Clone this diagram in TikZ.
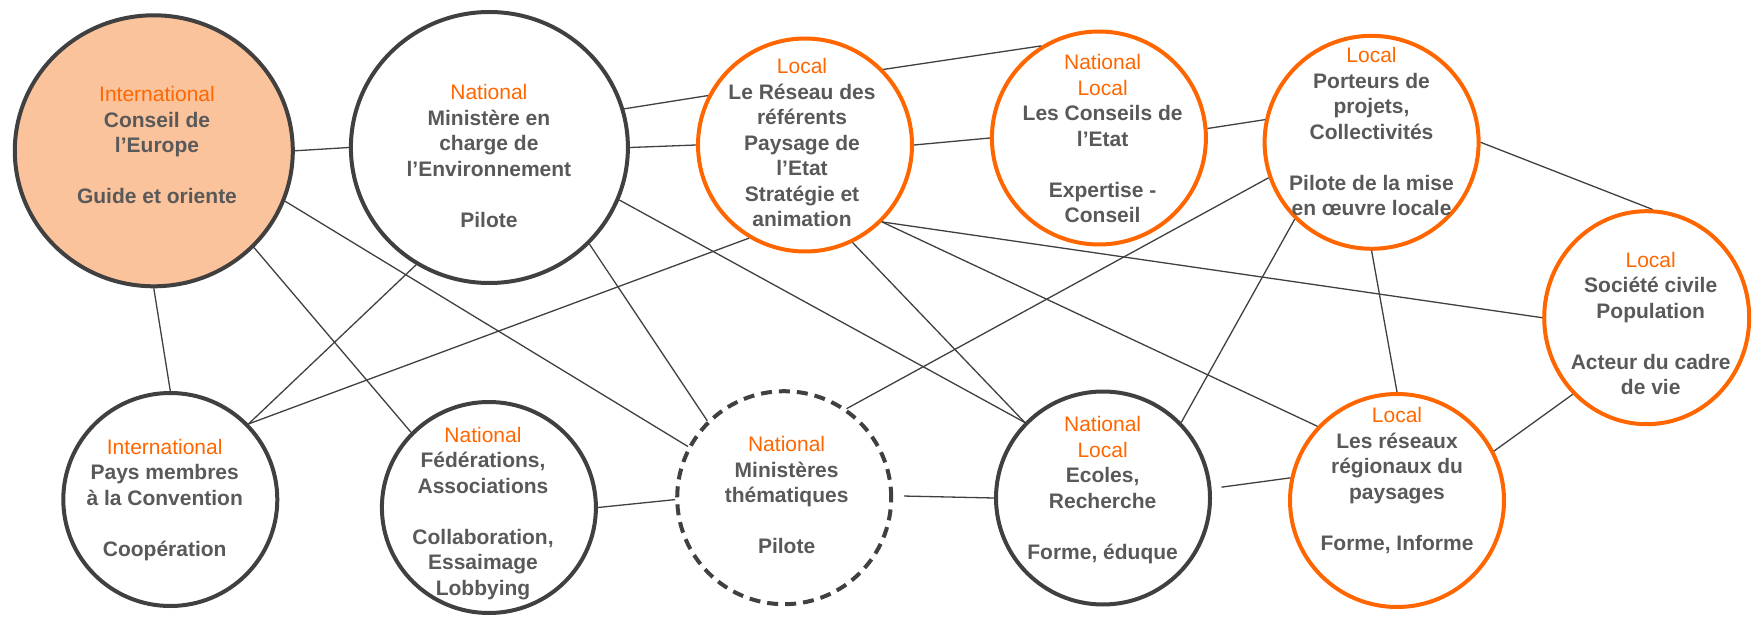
\documentclass[tikz,border=0pt]{standalone}
\usepackage{fontspec}
\setmainfont{Liberation Sans}
\usetikzlibrary{shapes.geometric}
\definecolor{txtgray}{RGB}{89,89,89}
\definecolor{lvlorange}{RGB}{255,102,0}
\definecolor{ringgray}{RGB}{64,64,64}
\definecolor{peach}{RGB}{250,195,155}
\newcommand{\lvl}[1]{{\mdseries\color{lvlorange}#1}}

\begin{document}
\begin{tikzpicture}[x=1pt,y=-1pt,
    acteur/.style={ellipse,draw=ringgray,line width=4pt,inner sep=0pt,
      minimum width=214pt,minimum height=213pt},
    orange/.style={acteur,draw=lvlorange},
    txt/.style={align=center,text=txtgray,font=\fontsize{21}{25.5}\selectfont\bfseries},
    lien/.style={draw=ringgray,line width=1.3pt}]
  \useasboundingbox (0,0) rectangle (1752,617);

  % top row
  \node[acteur,fill=peach,minimum width=278pt,minimum height=271pt] (conseil) at (153.8,150.8) {};
  \node[acteur,minimum width=277pt,minimum height=271pt] (ministere) at (489.4,147.5) {};
  \node[orange] (reseau) at (805,145) {};
  \node[orange] (etat) at (1098.9,138) {};
  \node[orange] (porteurs) at (1371.6,142.3) {};
  \node[orange,minimum width=205pt] (societe) at (1646.7,317.7) {};

  % bottom row
  \node[acteur] (pays) at (170.3,499.5) {};
  \node[acteur,minimum height=211pt] (federations) at (488.9,507.5) {};
  \node[acteur,dash pattern=on 11pt off 7pt] (ministeres) at (784.2,497.7) {};
  \node[acteur] (ecoles) at (1103,498) {};
  \node[orange] (regionaux) at (1397,500.5) {};

  % texts
  \node[txt] (conseil-t) at (157,145.2) {\lvl{International}\\Conseil de\\l'Europe\\[25.5pt]Guide et oriente};
  \node[txt] (ministere-t) at (488.9,155.8) {\lvl{National}\\Ministère en\\charge de\\l'Environnement\\[25.5pt]Pilote};
  \node[txt] (reseau-t) at (802,142.5) {\lvl{Local}\\Le Réseau des\\référents\\Paysage de\\l'Etat\\Stratégie et\\animation};
  \node[txt] (etat-t) at (1102.6,138.8) {\lvl{National}\\\lvl{Local}\\Les Conseils de\\l'Etat\\[25.5pt]Expertise -\\Conseil};
  \node[txt] (porteurs-t) at (1371.5,131.7) {\lvl{Local}\\Porteurs de\\projets,\\Collectivités\\[25.5pt]Pilote de la mise\\en œuvre locale};
  \node[txt] (societe-t) at (1650.7,323.7) {\lvl{Local}\\Société civile\\Population\\[25.5pt]Acteur du cadre\\de vie};
  \node[txt] (pays-t) at (164.7,500) {\lvl{International}\\Pays membres\\à la Convention\\[25.5pt]Coopération};
  \node[txt] (federations-t) at (483,513.5) {\lvl{National}\\Fédérations,\\Associations\\[25.5pt]Collaboration,\\Essaimage\\Lobbying};
  \node[txt] (ministeres-t) at (786.6,495) {\lvl{National}\\Ministères\\thématiques\\[25.5pt]Pilote};
  \node[txt] (ecoles-t) at (1102.6,490) {\lvl{National}\\\lvl{Local}\\Ecoles,\\Recherche\\[25.5pt]Forme, éduque};
  \node[txt] (regionaux-t) at (1397,480.5) {\lvl{Local}\\Les réseaux\\régionaux du\\paysages\\[25.5pt]Forme, Informe};

  % links
  \draw[lien] (conseil.0) -- (ministere.180);
  \draw[lien] (conseil.-90) -- (pays.90);
  \draw[lien] (conseil.-44) -- (federations.136);
  \draw[lien] (conseil.-21) -- (ministeres.152.5);
  \draw[lien] (ministere.-122.5) -- (pays.44);
  \draw[lien] (ministere.16.5) -- (reseau.153.6);
  \draw[lien] (ministere.0) -- (reseau.180);
  \draw[lien] (ministere.-44) -- (ministeres.135);
  \draw[lien] (ministere.-22.3) -- (ecoles.136.5);
  \draw[lien] (reseau.44.4) -- (etat.122.3);
  \draw[lien] (reseau.0) -- (etat.180);
  \draw[lien] (reseau.-121.7) -- (pays.44);
  \draw[lien] (reseau.-64.2) -- (ecoles.136.5);
  \draw[lien] (reseau.-45) -- (regionaux.137.8);
  \draw[lien] (reseau.-45) -- (societe.180);
  \draw[lien] (etat.5.4) -- (porteurs.168.6);
  \draw[lien] (porteurs.-161) -- (ministeres.55.4);
  \draw[lien] (porteurs.-135.5) -- (ecoles.44.3);
  \draw[lien] (porteurs.-90) -- (regionaux.90);
  \draw[lien] (porteurs.0) -- (societe.87.3);
  \draw[lien] (societe.-134.4) -- (regionaux.27.6);
  \draw[lien] (federations.0) -- (ministeres.181);
  \draw[lien,shorten <=11pt] (ministeres.1.4) -- (ecoles.180);
  \draw[lien,shorten <=10pt] (ecoles.5.4) -- (regionaux.168.6);
\end{tikzpicture}
\end{document}
